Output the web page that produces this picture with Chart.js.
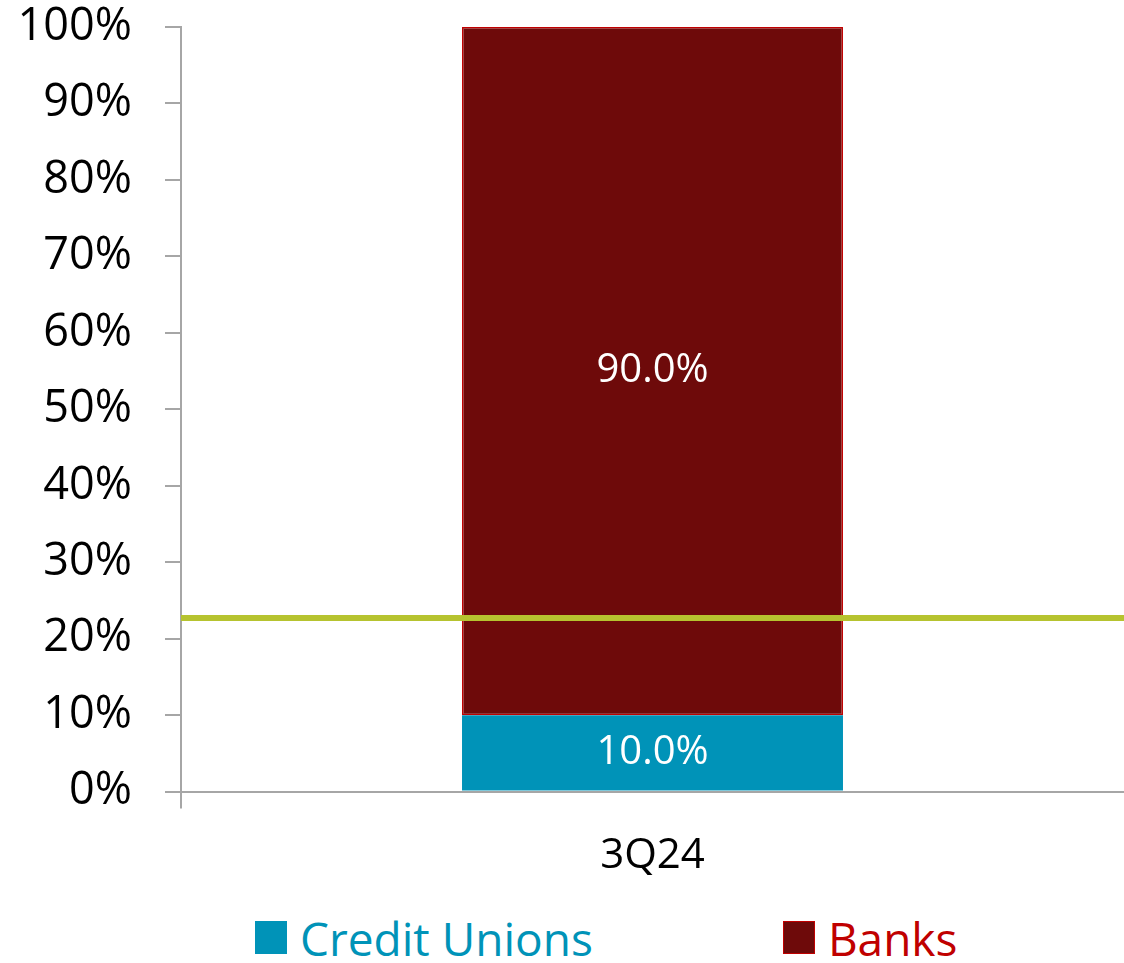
<!DOCTYPE html>
<html>
<head>
<meta charset="utf-8">
<script src="https://cdn.jsdelivr.net/npm/chart.js@4"></script>
<style>
  body { margin: 0; background: #fff; font-family: 'Open Sans', sans-serif; }
  #wrap { position: relative; width: 1124px; height: 903px; }
  #legend { display: flex; align-items: center; height: 60px; padding: 9px 0 0 255px; box-sizing: border-box; }
  .item { display: flex; align-items: center; font-size: 46px; margin-right: 190px; white-space: nowrap; }
  .box { width: 32px; height: 33px; margin-right: 13px; box-sizing: border-box; }
</style>
</head>
<body>
<div id="wrap"><canvas id="shareChart"></canvas></div>
<div id="legend"></div>
<script>
// Share of the quarter split between credit unions and banks
const categories = ['3Q24'];
const creditUnions = [10.0];
const banks = [90.0];
const thresholdLevel = 22.7;
const yMax = 100;
const yStep = 10;

const tealColor = '#0093B8';
const bankColor = '#6E0A0A';
const bankEdge = '#C00000';
const lineColor = '#B6C32F';
const axisColor = '#A6A6A6';

// horizontal threshold across the whole plot, placed with the y scale
const thresholdLine = {
    id: 'thresholdLine',
    afterDatasetsDraw(chart) {
        const {ctx, chartArea} = chart;
        const y = chart.scales.y.getPixelForValue(thresholdLevel);
        ctx.save();
        ctx.strokeStyle = lineColor;
        ctx.lineWidth = 6;
        ctx.beginPath();
        ctx.moveTo(chartArea.left, y);
        ctx.lineTo(chartArea.right, y);
        ctx.stroke();
        ctx.restore();
    }
};

// white percentage text in the middle of each stacked segment
const segmentLabels = {
    id: 'segmentLabels',
    afterDatasetsDraw(chart) {
        const ctx = chart.ctx;
        ctx.save();
        ctx.font = '40px "Open Sans"';
        ctx.fillStyle = '#fff';
        ctx.textAlign = 'center';
        ctx.textBaseline = 'middle';
        chart.data.datasets.forEach((ds, i) => {
            chart.getDatasetMeta(i).data.forEach((bar, j) => {
                const mid = (bar.y + bar.base) / 2;
                ctx.fillText(ds.data[j].toFixed(1) + '%', bar.x, mid);
            });
        });
        ctx.restore();
    }
};

const chart = new Chart(document.getElementById('shareChart'), {
    type: 'bar',
    data: {
        labels: categories,
        datasets: [{
            label: 'Credit Unions',
            data: creditUnions,
            backgroundColor: tealColor,
            borderWidth: 0,
            textColor: tealColor
        }, {
            label: 'Banks',
            data: banks,
            backgroundColor: bankColor,
            borderColor: bankEdge,
            borderWidth: 1.5,
            borderSkipped: false,
            textColor: bankEdge
        }]
    },
    options: {
        responsive: true,
        maintainAspectRatio: false,
        animation: false,
        layout: { padding: 0 },
        categoryPercentage: 1,
        barPercentage: 0.404,
        scales: {
            x: {
                stacked: true,
                grid: {
                    drawOnChartArea: false,
                    offset: true,
                    tickLength: 17,
                    // tick mark only at the left end of the axis
                    color: c => c.index === 0 ? axisColor : 'transparent',
                    lineWidth: 2
                },
                border: { color: axisColor, width: 2 },
                ticks: { color: '#000', font: { family: 'Open Sans', size: 42 }, padding: 22 }
            },
            y: {
                stacked: true,
                min: 0,
                max: yMax,
                afterFit(scale) {
                    scale.width = 181;
                    // only half a label is needed above the top tick
                    scale.paddingTop = 27;
                },
                grid: { drawOnChartArea: false, tickLength: 16, color: axisColor, lineWidth: 2 },
                border: { color: axisColor, width: 2 },
                ticks: {
                    stepSize: yStep,
                    color: '#000',
                    padding: 33,
                    font: { family: 'Open Sans', size: 45 },
                    callback: v => v + '%'
                }
            }
        },
        plugins: {
            legend: { display: false },
            tooltip: { enabled: false }
        }
    },
    plugins: [thresholdLine, segmentLabels]
});

// legend for the two series, text coloured like its series
const legendEl = document.getElementById('legend');
chart.data.datasets.forEach(ds => {
    const item = document.createElement('div');
    item.className = 'item';
    item.style.color = ds.textColor;
    const box = document.createElement('span');
    box.className = 'box';
    box.style.background = ds.backgroundColor;
    if (ds.borderWidth) box.style.border = '1.5px solid ' + ds.borderColor;
    item.appendChild(box);
    item.appendChild(document.createTextNode(ds.label));
    legendEl.appendChild(item);
});
</script>
</body>
</html>
